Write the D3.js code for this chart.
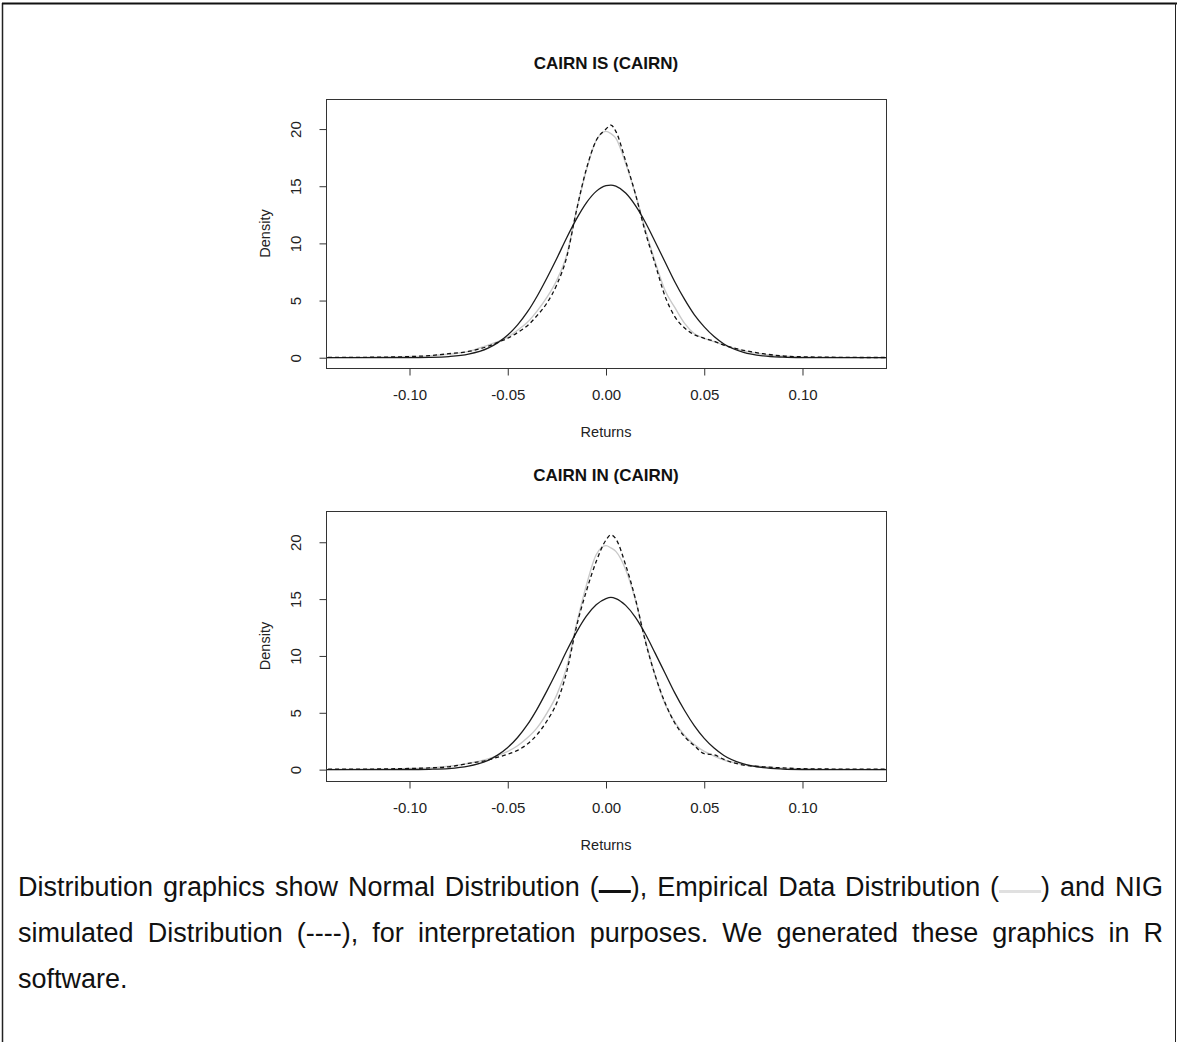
<!DOCTYPE html>
<html>
<head>
<meta charset="utf-8">
<script src="https://cdn.jsdelivr.net/npm/d3@7"></script>
<style>
  body { margin: 0; background: #fff; }
</style>
</head>
<body>
<svg id="chart" width="1177" height="1042"></svg>
<script>
// common grid of returns used for every curve
var gridX = [-0.145, -0.13, -0.12, -0.11, -0.10, -0.09, -0.08, -0.07, -0.06, -0.055,
             -0.05, -0.045, -0.04, -0.035, -0.03, -0.025, -0.02, -0.015, -0.01, -0.005,
             0, 0.0025, 0.005, 0.01, 0.015, 0.02, 0.025, 0.03, 0.035, 0.04,
             0.045, 0.05, 0.055, 0.06, 0.07, 0.08, 0.09, 0.10, 0.11, 0.12, 0.13, 0.145];

var xTicks = [-0.10, -0.05, 0, 0.05, 0.10];
var yTicks = [0, 5, 10, 15, 20];
var titles = ["CAIRN IS (CAIRN)", "CAIRN IN (CAIRN)"];

// CAIRN IS
var isNormal = [0, 0, 0, 0, 0.01, 0.03, 0.1, 0.31, 0.84, 1.32,
                1.98, 2.87, 4.0, 5.4, 7.0, 8.7, 10.5, 12.15, 13.55, 14.55,
                15.05, 15.1, 15.0, 14.4, 13.3, 11.85, 10.15, 8.4, 6.65, 5.1,
                3.75, 2.7, 1.85, 1.2, 0.47, 0.16, 0.05, 0.01, 0, 0, 0, 0];
var isEmpirical = [0, 0.02, 0.04, 0.06, 0.1, 0.16, 0.3, 0.55, 1.1, 1.4,
                   1.8, 2.4, 3.1, 4.1, 5.3, 6.8, 9.0, 12.9, 16.4, 19.0,
                   19.8, 19.6, 19.2, 17.0, 14.3, 11.2, 8.4, 5.9, 4.4, 3.0,
                   2.1, 1.7, 1.4, 1.1, 0.6, 0.3, 0.15, 0.06, 0.04, 0.02, 0.01, 0];
var isNIG = [0.02, 0.03, 0.04, 0.06, 0.1, 0.18, 0.35, 0.55, 1.0, 1.35,
             1.7, 2.2, 2.8, 3.7, 4.8, 6.4, 8.8, 12.9, 16.5, 19.0,
             20.0, 20.35, 19.8, 17.2, 14.3, 11.0, 8.2, 5.4, 3.6, 2.6,
             2.0, 1.7, 1.45, 1.1, 0.65, 0.35, 0.15, 0.08, 0.05, 0.03, 0.02, 0.02];

// CAIRN IN
var inNormal = [0, 0, 0, 0, 0.01, 0.03, 0.09, 0.3, 0.82, 1.3,
                1.95, 2.83, 3.95, 5.35, 6.95, 8.65, 10.45, 12.1, 13.5, 14.5,
                15.05, 15.15, 15.05, 14.45, 13.4, 11.95, 10.25, 8.5, 6.75, 5.2,
                3.85, 2.75, 1.9, 1.25, 0.5, 0.17, 0.05, 0.01, 0, 0, 0, 0];
var inEmpirical = [0, 0.03, 0.05, 0.07, 0.1, 0.15, 0.3, 0.55, 0.95, 1.25,
                   1.6, 2.1, 2.8, 3.7, 5.0, 6.6, 9.0, 12.8, 16.2, 18.9,
                   19.7, 19.5, 19.2, 17.6, 14.9, 11.4, 8.3, 5.8, 4.2, 3.0,
                   2.2, 1.6, 1.2, 0.85, 0.45, 0.25, 0.12, 0.06, 0.04, 0.03, 0.02, 0.01];
var inNIG = [0.05, 0.05, 0.05, 0.07, 0.1, 0.15, 0.25, 0.55, 0.85, 1.1,
             1.35, 1.7, 2.25, 3.1, 4.3, 5.9, 8.6, 12.6, 15.7, 18.3,
             20.2, 20.65, 20.3, 18.0, 15.0, 11.3, 8.3, 5.9, 4.1, 2.9,
             2.1, 1.4, 1.3, 0.9, 0.4, 0.25, 0.15, 0.08, 0.06, 0.05, 0.05, 0.05];

// caption, one array of word groups per line; a number is a legend bar
var captionLines = [
    [["Distribution"], ["graphics"], ["show"], ["Normal"], ["Distribution"],
     ["(", "black", "),"], ["Empirical"], ["Data"], ["Distribution"],
     ["(", "grey", ")"], ["and"], ["NIG"]],
    [["simulated"], ["Distribution"], ["(----),"], ["for"], ["interpretation"],
     ["purposes."], ["We"], ["generated"], ["these"], ["graphics"], ["in"], ["R"]],
    [["software."]]
];

var svg = d3.select("#chart");
var font = "'Liberation Sans', Arial, sans-serif";

// page frame
svg.append("line").attr("x1", 2.5).attr("y1", 3).attr("x2", 2.5).attr("y2", 1042)
    .attr("stroke", "#222").attr("stroke-width", 1.5);
svg.append("line").attr("x1", 2).attr("y1", 3.5).attr("x2", 1177).attr("y2", 3.5)
    .attr("stroke", "#111").attr("stroke-width", 2);
svg.append("line").attr("x1", 1175.5).attr("y1", 3).attr("x2", 1175.5).attr("y2", 1042)
    .attr("stroke", "#222").attr("stroke-width", 1);

function drawPanel(id, box, yDomain, title, normal, empirical, nig) {
    var x = d3.scaleLinear().domain([-0.1425, 0.1425]).range([box.left, box.right]);
    var y = d3.scaleLinear().domain(yDomain).range([box.bottom, box.top]);

    svg.append("clipPath").attr("id", "clip" + id)
        .append("rect")
        .attr("x", box.left).attr("y", box.top)
        .attr("width", box.right - box.left).attr("height", box.bottom - box.top);

    var g = svg.append("g").attr("clip-path", "url(#clip" + id + ")");

    var line = d3.line()
        .x(function (d, i) { return x(gridX[i]); })
        .y(function (d) { return y(d); })
        .curve(d3.curveMonotoneX);

    g.append("path").attr("d", line(empirical))
        .attr("fill", "none").attr("stroke", "#c9c9c9").attr("stroke-width", 1.4);
    g.append("path").attr("d", line(normal))
        .attr("fill", "none").attr("stroke", "#1c1c1c").attr("stroke-width", 1.3);
    g.append("path").attr("d", line(nig))
        .attr("fill", "none").attr("stroke", "#111").attr("stroke-width", 1.3)
        .attr("stroke-dasharray", "4,3");

    // box
    svg.append("rect")
        .attr("x", box.left + 0.5).attr("y", box.top + 0.5)
        .attr("width", box.right - box.left).attr("height", box.bottom - box.top)
        .attr("fill", "none").attr("stroke", "#333").attr("stroke-width", 1);

    // x axis
    var xAxis = d3.axisBottom(x).tickValues(xTicks).tickSize(7).tickPadding(14)
        .tickFormat(function (d) { return d.toFixed(2); });
    var gx = svg.append("g").attr("transform", "translate(0," + (box.bottom + 0.5) + ")").call(xAxis);
    gx.select(".domain").remove();
    gx.selectAll("line").attr("stroke", "#333");
    gx.selectAll("text").attr("font-family", font).attr("font-size", 15).attr("fill", "#222");

    // y axis, labels parallel to the axis like R
    var yAxis = d3.axisLeft(y).tickValues(yTicks).tickSize(7).tickFormat(d3.format("d"));
    var gy = svg.append("g").attr("transform", "translate(" + (box.left + 0.5) + ",0)").call(yAxis);
    gy.select(".domain").remove();
    gy.selectAll("line").attr("stroke", "#333");
    gy.selectAll("text")
        .attr("x", 0).attr("dy", 0)
        .attr("text-anchor", "middle")
        .attr("transform", "translate(-26,0) rotate(-90)")
        .attr("font-family", font).attr("font-size", 15).attr("fill", "#222");

    svg.append("text")
        .attr("x", 606).attr("y", box.top - 30)
        .attr("text-anchor", "middle")
        .attr("font-family", font).attr("font-size", 17).attr("font-weight", "bold")
        .attr("fill", "#111")
        .text(title);

    svg.append("text")
        .attr("x", 606).attr("y", box.bottom + 69)
        .attr("text-anchor", "middle")
        .attr("font-family", font).attr("font-size", 14.5).attr("fill", "#222")
        .text("Returns");

    svg.append("text")
        .attr("transform", "translate(" + (box.left - 56) + "," + ((box.top + box.bottom) / 2) + ") rotate(-90)")
        .attr("text-anchor", "middle")
        .attr("font-family", font).attr("font-size", 14.5).attr("fill", "#222")
        .text("Density");
}

drawPanel(1, { left: 326, right: 886, top: 99, bottom: 368 }, [-0.9, 22.63], titles[0], isNormal, isEmpirical, isNIG);
drawPanel(2, { left: 326, right: 886, top: 511, bottom: 781 }, [-1.0, 22.75], titles[1], inNormal, inEmpirical, inNIG);

// caption, justified word by word
var bars = { black: { w: 32, c: "#111" }, grey: { w: 42, c: "#e0e0e0" } };
var capLeft = 18, capRight = 1163, capSize = 27;
var baselines = [896, 942, 988];

captionLines.forEach(function (words, li) {
    var cap = svg.append("g");
    var groups = words.map(function (pieces) {
        var gg = cap.append("g");
        var w = 0;
        pieces.forEach(function (p) {
            if (bars[p]) {
                gg.append("rect").attr("x", w).attr("y", -6).attr("width", bars[p].w).attr("height", 3)
                    .attr("fill", bars[p].c);
                w += bars[p].w;
            } else {
                var t = gg.append("text").attr("x", w).attr("y", 0)
                    .attr("font-family", font).attr("font-size", capSize).attr("fill", "#111")
                    .text(p);
                w += t.node().getComputedTextLength();
            }
        });
        return { g: gg, w: w };
    });
    var total = d3.sum(groups, function (d) { return d.w; });
    var justify = li < captionLines.length - 1;
    var gap = justify ? (capRight - capLeft - total) / (groups.length - 1) : capSize * 0.278;
    var xpos = capLeft;
    groups.forEach(function (d) {
        d.g.attr("transform", "translate(" + xpos + "," + baselines[li] + ")");
        xpos += d.w + gap;
    });
});
</script>
</body>
</html>
